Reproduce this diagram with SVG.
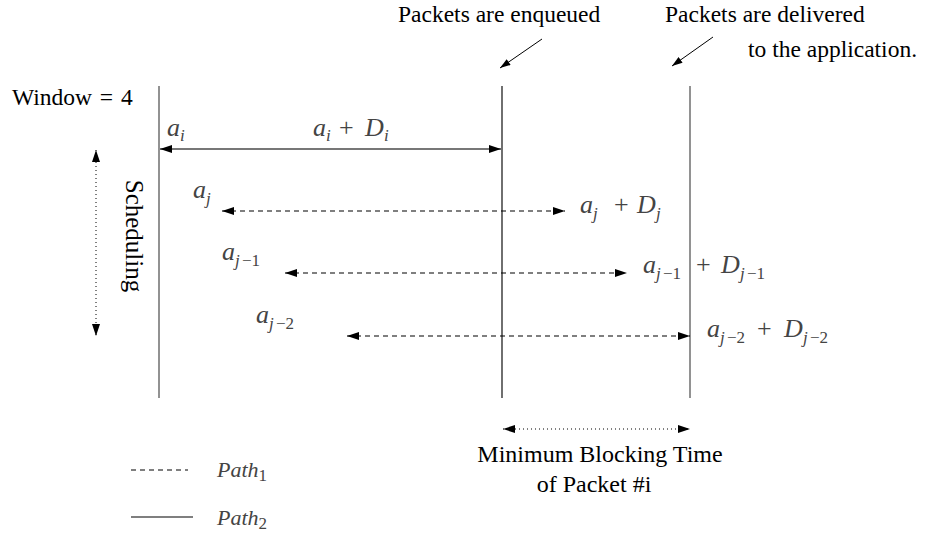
<svg xmlns="http://www.w3.org/2000/svg" width="930" height="535" viewBox="0 0 930 535">
<defs>
<marker id="ah" viewBox="0 0 12 8" refX="12" refY="4" markerWidth="12" markerHeight="8" markerUnits="userSpaceOnUse" orient="auto-start-reverse"><path d="M0,0 L12,4 L0,8 Z" fill="#000"/></marker>
<marker id="ahs" viewBox="0 0 12 8" refX="12" refY="4" markerWidth="11" markerHeight="7" markerUnits="userSpaceOnUse" orient="auto"><path d="M0,0 L12,4 L0,8 Z" fill="#000"/></marker>
</defs>
<style>
.t{font-family:"Liberation Serif","Times New Roman",serif;font-size:23.5px;fill:#000}
.m{font-family:"Liberation Serif","Times New Roman",serif;font-style:italic;font-size:26px;fill:#444}
.r{font-style:normal}
.s{font-size:17px}
.gv{stroke:#777;stroke-width:1.6;fill:none}
.bv{stroke:#222;stroke-width:1.3;fill:none}
.dash{stroke:#000;stroke-width:1.2;stroke-dasharray:5,4;fill:none}
.dot{stroke:#000;stroke-width:1;stroke-dasharray:1,3;fill:none}
</style>
<rect width="930" height="535" fill="#fff"/>
<g id="timelines">
<line class="gv" x1="159" y1="86" x2="159" y2="398"/>
<line class="bv" x1="502" y1="86" x2="502" y2="398"/>
<line class="gv" x1="690" y1="86" x2="690" y2="398"/>
</g>
<g id="labels-top">
<text class="t" x="398" y="22">Packets are enqueued</text>
<text class="t" x="665" y="22">Packets are delivered</text>
<text class="t" x="748" y="57">to the application.</text>
<text class="t" x="12" y="105" style="word-spacing:2px">Window = 4</text>
</g>
<g id="connectors">
<line x1="542" y1="39" x2="500" y2="68" stroke="#000" stroke-width="1" marker-end="url(#ahs)"/>
<line x1="713" y1="37" x2="672" y2="66" stroke="#000" stroke-width="1" marker-end="url(#ahs)"/>
<line x1="160" y1="149" x2="501" y2="149" stroke="#777" stroke-width="2" marker-start="url(#ah)" marker-end="url(#ah)"/>
<line class="dash" x1="222" y1="211" x2="565" y2="211" marker-start="url(#ah)" marker-end="url(#ah)"/>
<line class="dash" x1="285" y1="273" x2="627" y2="273" marker-start="url(#ah)" marker-end="url(#ah)"/>
<line class="dash" x1="347" y1="336" x2="690" y2="336" marker-start="url(#ah)" marker-end="url(#ah)"/>
<line class="dot" x1="96" y1="150" x2="96" y2="336" marker-start="url(#ah)" marker-end="url(#ah)"/>
<line class="dot" x1="503" y1="429" x2="690" y2="429" marker-start="url(#ah)" marker-end="url(#ah)"/>
</g>
<g id="math">
<text class="m" y="136"><tspan x="167">a</tspan><tspan class="s" x="180" y="141">i</tspan></text>
<text class="m" y="136"><tspan x="313">a</tspan><tspan class="s" x="326" y="141">i</tspan><tspan class="r" x="339" y="136">+</tspan><tspan x="365">D</tspan><tspan class="s" x="384" y="141">i</tspan></text>
<text class="m" y="198"><tspan x="193">a</tspan><tspan class="s" x="206" y="204">j</tspan></text>
<text class="m" y="213"><tspan x="580">a</tspan><tspan class="s" x="593" y="219">j</tspan><tspan class="r" x="614" y="213">+</tspan><tspan x="637">D</tspan><tspan class="s" x="656" y="219">j</tspan></text>
<text class="m" y="260"><tspan x="222">a</tspan><tspan class="s" x="235" y="266">j</tspan><tspan class="s r" x="242">−1</tspan></text>
<text class="m" y="273"><tspan x="643">a</tspan><tspan class="s" x="656" y="279">j</tspan><tspan class="s r" x="663">−1</tspan><tspan class="r" x="696" y="273">+</tspan><tspan x="721">D</tspan><tspan class="s" x="740" y="279">j</tspan><tspan class="s r" x="747">−1</tspan></text>
<text class="m" y="323"><tspan x="256">a</tspan><tspan class="s" x="269" y="329">j</tspan><tspan class="s r" x="276">−2</tspan></text>
<text class="m" y="337"><tspan x="707">a</tspan><tspan class="s" x="720" y="343">j</tspan><tspan class="s r" x="727">−2</tspan><tspan class="r" x="757" y="337">+</tspan><tspan x="784">D</tspan><tspan class="s" x="803" y="343">j</tspan><tspan class="s r" x="810">−2</tspan></text>
</g>
<g id="scheduling">
<text class="t" x="0" y="0" text-anchor="middle" style="font-size:25px" transform="translate(126,236) rotate(90)">Scheduling</text>
</g>
<g id="blocking">
<text class="t" x="600" y="462" text-anchor="middle" style="font-size:24px">Minimum Blocking Time</text>
<text class="t" x="594" y="492" text-anchor="middle" style="font-size:24px">of Packet #i</text>
</g>
<g id="legend">
<line class="dash" x1="131" y1="470" x2="188" y2="470" stroke-dasharray="4,4.5"/>
<text class="m" x="217" y="477" style="font-size:22px">Path<tspan class="r s" dy="4">1</tspan></text>
<line x1="131" y1="517" x2="193" y2="517" stroke="#000" stroke-width="1.2"/>
<text class="m" x="217" y="525" style="font-size:22px">Path<tspan class="r s" dy="4">2</tspan></text>
</g>
</svg>
